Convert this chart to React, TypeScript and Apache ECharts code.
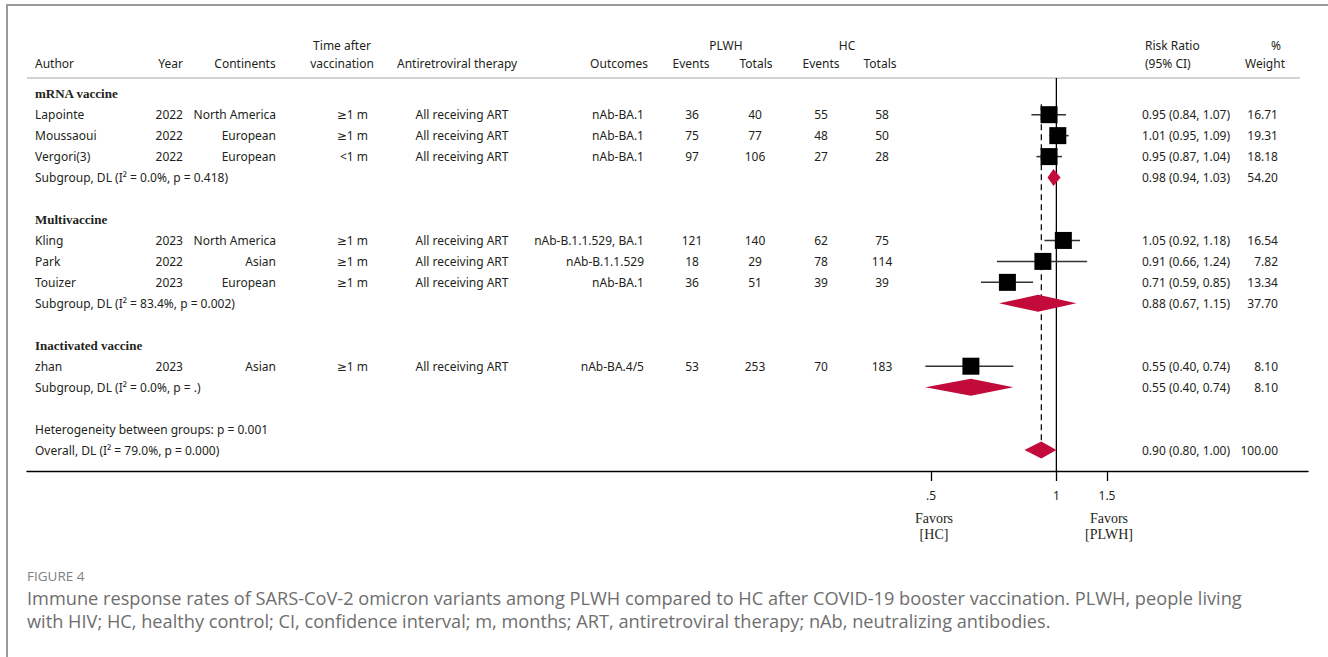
import React, { useEffect, useRef } from "react";
import * as echarts from "echarts";

// ---- study-level data ----
const authors = ["Lapointe", "Moussaoui", "Vergori(3)", "Kling", "Park", "Touizer", "zhan"];
const years = [2022, 2022, 2022, 2023, 2022, 2023, 2023];
const continents = ["North America", "European", "European", "North America", "Asian", "European", "Asian"];
const timeAfter = ["≥1 m", "≥1 m", "<1 m", "≥1 m", "≥1 m", "≥1 m", "≥1 m"];
const artStatus = [
  "All receiving ART", "All receiving ART", "All receiving ART", "All receiving ART",
  "All receiving ART", "All receiving ART", "All receiving ART",
];
const outcomes = ["nAb-BA.1", "nAb-BA.1", "nAb-BA.1", "nAb-B.1.1.529, BA.1", "nAb-B.1.1.529", "nAb-BA.1", "nAb-BA.4/5"];
const plwhEvents = [36, 75, 97, 121, 18, 36, 53];
const plwhTotals = [40, 77, 106, 140, 29, 51, 253];
const hcEvents = [55, 48, 27, 62, 78, 39, 70];
const hcTotals = [58, 50, 28, 75, 114, 39, 183];
const riskRatio = [0.95, 1.01, 0.95, 1.05, 0.91, 0.71, 0.55];
const ciLower = [0.84, 0.95, 0.87, 0.92, 0.66, 0.59, 0.4];
const ciUpper = [1.07, 1.09, 1.04, 1.18, 1.24, 0.85, 0.74];
const weights = [16.71, 19.31, 18.18, 16.54, 7.82, 13.34, 8.1];
const studyGroup = [0, 0, 0, 1, 1, 1, 2];

// ---- subgroup pooled estimates ----
const groupNames = ["mRNA vaccine", "Multivaccine", "Inactivated vaccine"];
const groupI2 = ["0.0%", "83.4%", "0.0%"];
const groupP = ["0.418", "0.002", "."];
const groupRR = [0.98, 0.88, 0.55];
const groupLower = [0.94, 0.67, 0.4];
const groupUpper = [1.03, 1.15, 0.74];
const groupWeight = [54.2, 37.7, 8.1];

// ---- overall estimate ----
const overallRR = 0.9;
const overallLower = 0.8;
const overallUpper = 1.0;
const overallWeight = 100;
const overallI2 = "79.0%";
const overallP = "0.000";
const betweenGroupsP = "0.001";

// ---- axis ticks (risk ratio where each printed tick sits, and its label) ----
const tickAt = [0.416, 1, 1.425];
const tickLabels = [".5", "1", "1.5"];

const SANS = '"Noto Sans", "DejaVu Sans", sans-serif';
const SERIF = '"Liberation Serif", "DejaVu Serif", serif';
const CAPTION_FONT = '"Open Sans", "Noto Sans", sans-serif';
const INK = "#231f20";
const RED = "#c20a3b";
const X_MIN = -7.2;
const X_MAX = 1.76;
const BOX = 17;
const DIAMOND_H = 17;

const fmt = (v: number) => v.toFixed(2);
const rrText = (r: number, l: number, u: number) => `${fmt(r)} (${fmt(l)}, ${fmt(u)})`;

type Row = { kind: string; idx: number; y: number };
const rows: Row[] = [];
(() => {
  let r = 0;
  groupNames.forEach((_, g) => {
    rows.push({ kind: "group", idx: g, y: r++ });
    studyGroup.forEach((sg, s) => {
      if (sg === g) rows.push({ kind: "study", idx: s, y: r++ });
    });
    rows.push({ kind: "subgroup", idx: g, y: r++ });
    r++;
  });
  rows.push({ kind: "between", idx: 0, y: r++ });
  rows.push({ kind: "overall", idx: 0, y: r++ });
})();
const overallRow = rows.find((r) => r.kind === "overall")!.y;
const firstStudyRow = rows.find((r) => r.kind === "study")!.y;

// column anchors for the table (pixels)
const COL = {
  author: 35, year: 183, continent: 276, time: 368, art: 462, outcome: 644,
  pe: 692, pt: 755, he: 821, ht: 882, rr: 1142, weight: 1278,
};

function txt(x: number, y: number, text: string, align: string, extra: any = {}) {
  return {
    type: "text",
    x,
    y,
    silent: true,
    style: {
      text,
      fill: INK,
      fontSize: 12,
      fontFamily: SANS,
      align,
      verticalAlign: "middle",
      textAlign: align,
      textVerticalAlign: "middle",
      ...extra,
    },
  };
}

function buildOption() {
  const tableData = rows.map((r) => [X_MIN, r.y]);
  const studyData = riskRatio.map((v, i) => {
    const row = rows.find((r) => r.kind === "study" && r.idx === i)!;
    return [Math.log(v), Math.log(ciLower[i]), Math.log(ciUpper[i]), row.y];
  });
  const diamondData = groupRR.map((v, g) => {
    const row = rows.find((r) => r.kind === "subgroup" && r.idx === g)!;
    return [Math.log(v), Math.log(groupLower[g]), Math.log(groupUpper[g]), row.y];
  });
  diamondData.push([Math.log(overallRR), Math.log(overallLower), Math.log(overallUpper), overallRow]);

  const headerY1 = 45;
  const headerY2 = 63;
  const header = [
    txt(35, headerY2, "Author", "left"),
    txt(183, headerY2, "Year", "right"),
    txt(245, headerY2, "Continents", "center"),
    txt(342, headerY1, "Time after", "center"),
    txt(342, headerY2, "vaccination", "center"),
    txt(397, headerY2, "Antiretroviral therapy", "left"),
    txt(648, headerY2, "Outcomes", "right"),
    txt(726, headerY1, "PLWH", "center"),
    txt(691, headerY2, "Events", "center"),
    txt(756, headerY2, "Totals", "center"),
    txt(847, headerY1, "HC", "center"),
    txt(821, headerY2, "Events", "center"),
    txt(880, headerY2, "Totals", "center"),
    txt(1145, headerY1, "Risk Ratio", "left"),
    txt(1145, headerY2, "(95% CI)", "left"),
    txt(1276, headerY1, "%", "center"),
    txt(1285, headerY2, "Weight", "right"),
  ];

  const serifLabel = { fontFamily: SERIF, fontSize: 14 };
  const favors = [
    txt(934, 518, "Favors", "center", serifLabel),
    txt(934, 534, "[HC]", "center", serifLabel),
    txt(1109, 518, "Favors", "center", serifLabel),
    txt(1109, 534, "[PLWH]", "center", serifLabel),
  ];

  const caption = [
    txt(27, 576, "FIGURE 4", "left", { fill: "#808080", fontSize: 13.5, fontFamily: CAPTION_FONT }),
    txt(27, 598,
      "Immune response rates of SARS-CoV-2 omicron variants among PLWH compared to HC after COVID-19 booster vaccination. PLWH, people living",
      "left", { fill: "#6e6e6e", fontSize: 18.2, fontFamily: CAPTION_FONT }),
    txt(27, 621,
      "with HIV; HC, healthy control; CI, confidence interval; m, months; ART, antiretroviral therapy; nAb, neutralizing antibodies.",
      "left", { fill: "#6e6e6e", fontSize: 18.2, fontFamily: CAPTION_FONT }),
  ];

  const frame = [
    { type: "line", silent: true, shape: { x1: 7, y1: 5, x2: 1328, y2: 5 }, style: { stroke: "#9a9a9a", lineWidth: 2 } },
    { type: "line", silent: true, shape: { x1: 7, y1: 4, x2: 7, y2: 657 }, style: { stroke: "#9a9a9a", lineWidth: 2 } },
    { type: "line", silent: true, shape: { x1: 27, y1: 78, x2: 1300, y2: 78 }, style: { stroke: "#c4c4c4", lineWidth: 1.5 } },
  ];

  const tickValues = tickAt.map((v) => Math.log(v));

  return {
    animation: false,
    backgroundColor: "#ffffff",
    grid: { left: 27, right: 20, top: 78, bottom: 186, containLabel: false },
    xAxis: {
      type: "value",
      position: "bottom",
      min: X_MIN,
      max: X_MAX,
      splitLine: { show: false },
      axisLine: { show: true, onZero: false, lineStyle: { color: "#000", width: 1.3 } },
      axisTick: {
        show: true,
        length: 10,
        lineStyle: { color: "#000", width: 1.3 },
        customValues: tickValues,
      },
      axisLabel: {
        show: true,
        margin: 18,
        color: INK,
        fontSize: 12,
        fontFamily: SANS,
        customValues: tickValues,
        formatter: (val: number) => {
          let best = 0;
          tickValues.forEach((t, i) => {
            if (Math.abs(t - val) < Math.abs(tickValues[best] - val)) best = i;
          });
          return tickLabels[best];
        },
      },
    },
    yAxis: {
      type: "value",
      inverse: true,
      min: -0.75,
      max: 18,
      show: false,
    },
    graphic: { elements: [...frame, ...header, ...favors, ...caption] },
    series: [
      {
        // reference lines: null effect (solid) and overall estimate (dashed)
        type: "custom",
        name: "reference",
        silent: true,
        data: [[0, 0], [Math.log(overallRR), 1]],
        renderItem: (params: any, api: any) => {
          const cs = params.coordSys;
          const x = api.coord([api.value(0), 0])[0];
          if (api.value(1) === 0) {
            return {
              type: "line",
              shape: { x1: x, y1: cs.y, x2: x, y2: cs.y + cs.height },
              style: { stroke: "#000", lineWidth: 1.3 },
            };
          }
          const yTop = api.coord([0, firstStudyRow - 0.5])[1];
          const yBot = api.coord([0, overallRow])[1];
          return {
            type: "line",
            shape: { x1: x, y1: yTop, x2: x, y2: yBot },
            style: { stroke: "#000", lineWidth: 1.2, lineDash: [6, 4] },
          };
        },
      },
      {
        // table text, one entry per row
        type: "custom",
        name: "table",
        silent: true,
        data: tableData,
        renderItem: (params: any, api: any) => {
          const row = rows[params.dataIndex];
          const y = api.coord([X_MIN, api.value(1)])[1];
          const kids: any[] = [];
          if (row.kind === "group") {
            kids.push(txt(COL.author, y, groupNames[row.idx], "left", { fontFamily: SERIF, fontWeight: "bold", fontSize: 13 }));
          } else if (row.kind === "study") {
            const i = row.idx;
            kids.push(
              txt(COL.author, y, authors[i], "left"),
              txt(COL.year, y, String(years[i]), "right"),
              txt(COL.continent, y, continents[i], "right"),
              txt(COL.time, y, timeAfter[i], "right"),
              txt(COL.art, y, artStatus[i], "center"),
              txt(COL.outcome, y, outcomes[i], "right"),
              txt(COL.pe, y, String(plwhEvents[i]), "center"),
              txt(COL.pt, y, String(plwhTotals[i]), "center"),
              txt(COL.he, y, String(hcEvents[i]), "center"),
              txt(COL.ht, y, String(hcTotals[i]), "center"),
              txt(COL.rr, y, rrText(riskRatio[i], ciLower[i], ciUpper[i]), "left"),
              txt(COL.weight, y, fmt(weights[i]), "right"),
            );
          } else if (row.kind === "subgroup") {
            const g = row.idx;
            kids.push(
              txt(COL.author, y, `Subgroup, DL (I² = ${groupI2[g]}, p = ${groupP[g]})`, "left"),
              txt(COL.rr, y, rrText(groupRR[g], groupLower[g], groupUpper[g]), "left"),
              txt(COL.weight, y, fmt(groupWeight[g]), "right"),
            );
          } else if (row.kind === "between") {
            kids.push(txt(COL.author, y, `Heterogeneity between groups: p = ${betweenGroupsP}`, "left"));
          } else {
            kids.push(
              txt(COL.author, y, `Overall, DL (I² = ${overallI2}, p = ${overallP})`, "left"),
              txt(COL.rr, y, rrText(overallRR, overallLower, overallUpper), "left"),
              txt(COL.weight, y, fmt(overallWeight), "right"),
            );
          }
          return { type: "group", children: kids };
        },
      },
      {
        // study estimates: CI whisker + square
        type: "custom",
        name: "studies",
        silent: true,
        encode: { x: [0, 1, 2], y: 3 },
        data: studyData,
        renderItem: (params: any, api: any) => {
          const y = api.value(3);
          const c = api.coord([api.value(0), y]);
          const lo = api.coord([api.value(1), y]);
          const hi = api.coord([api.value(2), y]);
          return {
            type: "group",
            children: [
              {
                type: "line",
                shape: { x1: lo[0], y1: c[1], x2: hi[0], y2: c[1] },
                style: { stroke: "#333", lineWidth: 1.5 },
              },
              {
                type: "rect",
                shape: { x: c[0] - BOX / 2, y: c[1] - BOX / 2, width: BOX, height: BOX },
                style: { fill: "#000" },
              },
            ],
          };
        },
      },
      {
        // pooled estimates: diamonds
        type: "custom",
        name: "pooled",
        silent: true,
        encode: { x: [0, 1, 2], y: 3 },
        data: diamondData,
        renderItem: (params: any, api: any) => {
          const y = api.value(3);
          const c = api.coord([api.value(0), y]);
          const lo = api.coord([api.value(1), y]);
          const hi = api.coord([api.value(2), y]);
          const h = DIAMOND_H / 2;
          return {
            type: "polygon",
            shape: { points: [[lo[0], c[1]], [c[0], c[1] - h], [hi[0], c[1]], [c[0], c[1] + h]] },
            style: { fill: RED },
          };
        },
      },
    ],
  };
}

export default function App() {
  const ref = useRef<HTMLDivElement>(null);
  useEffect(() => {
    if (!ref.current) return;
    const chart = echarts.init(ref.current, null, { renderer: "svg" });
    chart.setOption(buildOption() as any);
    return () => chart.dispose();
  }, []);
  return (
    <div
      ref={ref}
      style={{ position: "absolute", left: 0, top: 0, width: 1328, height: 657, background: "#fff" }}
    />
  );
}
